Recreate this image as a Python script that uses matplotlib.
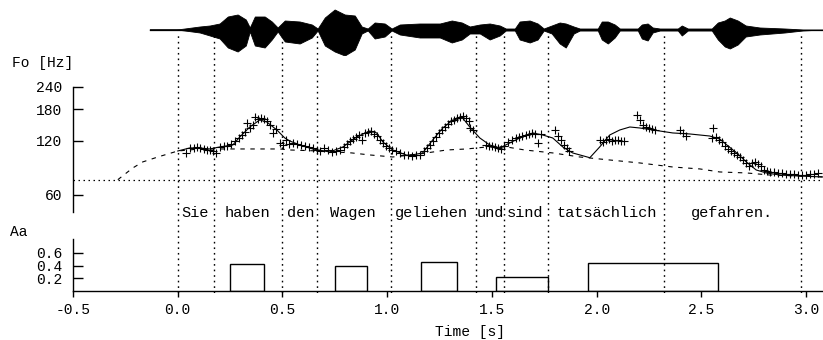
import matplotlib.pyplot as plt
import numpy as np
from matplotlib.ticker import NullLocator
from matplotlib.transforms import blended_transform_factory

plt.rcParams["font.family"] = ["Liberation Mono", "DejaVu Sans"]

W, H = 823, 340
T_MIN, T_MAX = -0.5, 3.08

# speech waveform envelope (time in s, amplitude above / below the baseline, arbitrary units)
wave_t = [-0.134, -0.005, 0.033, 0.105, 0.153, 0.200, 0.239, 0.286, 0.325, 0.344,
          0.368, 0.415, 0.449, 0.477, 0.511, 0.582, 0.640, 0.668, 0.702, 0.749,
          0.797, 0.845, 0.878, 0.907, 0.940, 0.988, 1.021, 1.060, 1.155, 1.251,
          1.308, 1.356, 1.394, 1.442, 1.489, 1.537, 1.566, 1.609, 1.632, 1.680,
          1.718, 1.747, 1.785, 1.823, 1.852, 1.890, 1.919, 2.005, 2.024, 2.053,
          2.086, 2.110, 2.196, 2.215, 2.243, 2.267, 2.301, 2.387, 2.406, 2.435,
          2.549, 2.578, 2.611, 2.635, 2.673, 2.711, 2.778, 2.897, 2.983, 3.079]
wave_up = [0, 0, 1, 3, 4, 6, 13, 15, 10, 2,
           13, 13, 8, 2, 9, 8, 5, 1, 12, 20,
           15, 14, 3, 1, 7, 6, 1, 5, 6, 6,
           9, 7, 3, 5, 6, 4, 1, 1, 8, 9,
           6, 1, 4, 7, 6, 3, 1, 1, 8, 8,
           5, 1, 1, 5, 6, 2, 1, 1, 4, 1,
           1, 7, 9, 12, 9, 4, 2, 1, 0, 0]
wave_dn = [0, 0, 1, 3, 6, 9, 18, 22, 16, 2,
           16, 18, 10, 2, 12, 14, 8, 1, 16, 22,
           26, 20, 4, 1, 9, 7, 1, 5, 8, 8,
           13, 10, 4, 4, 10, 6, 1, 1, 10, 13,
           10, 1, 4, 14, 18, 4, 1, 1, 10, 14,
           8, 1, 1, 9, 11, 3, 1, 1, 6, 1,
           1, 10, 17, 19, 15, 7, 5, 3, 1, 0]

# measured F0 (+ marks)
f0_t = ([0.038, 0.057, 0.076, 0.091, 0.105, 0.124, 0.138, 0.153, 0.167, 0.181,
         0.200, 0.220, 0.234, 0.253, 0.272, 0.291, 0.305, 0.320, 0.329, 0.344,
         0.358, 0.368, 0.382, 0.396, 0.410, 0.425, 0.439, 0.453, 0.468, 0.487,
         0.501, 0.515, 0.530]
        + [0.549, 0.568, 0.587, 0.606, 0.625, 0.644, 0.663, 0.678, 0.697, 0.716,
           0.735, 0.754, 0.773, 0.792, 0.807, 0.821, 0.835, 0.850, 0.864, 0.878,
           0.893, 0.907, 0.921, 0.935, 0.950, 0.964, 0.978, 0.993, 1.007, 1.021]
        + [1.040, 1.060, 1.079, 1.098, 1.117, 1.136, 1.155, 1.174, 1.189, 1.203,
           1.217, 1.232, 1.246, 1.260, 1.274, 1.289, 1.303, 1.317, 1.332, 1.346,
           1.360, 1.375, 1.389, 1.394, 1.408]
        + [1.470, 1.484, 1.499, 1.513, 1.527, 1.542, 1.556, 1.575, 1.594, 1.613,
           1.628, 1.642, 1.661, 1.675, 1.690, 1.704, 1.718, 1.733]
        + [1.799, 1.814, 1.828, 1.842, 1.857, 1.866]
        + [2.014, 2.029, 2.043, 2.057, 2.072, 2.086, 2.100, 2.115, 2.129]
        + [2.191, 2.205, 2.220, 2.234, 2.248, 2.262, 2.277]
        + [2.396, 2.411, 2.425, 2.549, 2.554, 2.568, 2.582, 2.597, 2.611, 2.625,
           2.640, 2.654, 2.668, 2.683, 2.697, 2.711, 2.726, 2.740, 2.754, 2.768,
           2.783, 2.797, 2.811, 2.826, 2.845, 2.864, 2.883, 2.902, 2.921, 2.940,
           2.959, 2.978, 2.998, 3.017, 3.036, 3.055])
f0_hz = ([102.9, 109.7, 109.7, 111.1, 109.7, 108.3, 106.9, 106.9, 105.5, 102.9,
          111.1, 112.6, 112.6, 115.5, 120.0, 124.7, 129.6, 134.7, 151.2, 141.8,
          147.4, 163.3, 159.2, 161.2, 159.2, 155.1, 147.4, 133.0, 140.0, 117.0,
          114.0, 121.6, 115.5]
         + [117.0, 115.5, 114.0, 112.6, 111.1, 109.7, 106.9, 105.5, 109.7, 106.9,
            104.2, 105.5, 106.9, 111.1, 115.5, 120.0, 123.1, 126.3, 129.6, 121.6,
            133.0, 134.7, 136.4, 131.3, 127.9, 121.6, 117.0, 112.6, 109.7, 106.9]
         + [105.5, 102.9, 100.3, 100.3, 98.9, 100.3, 100.3, 105.5, 109.7, 114.0,
            120.0, 126.3, 133.0, 138.2, 143.6, 149.3, 155.1, 157.1, 161.2, 163.3,
            165.4, 161.2, 155.1, 141.8, 138.2]
         + [114.0, 112.6, 112.6, 111.1, 109.7, 108.3, 112.6, 118.5, 121.6, 124.7,
            126.3, 127.9, 129.6, 131.3, 133.0, 131.3, 117.0, 131.3]
         + [138.2, 127.9, 121.6, 114.0, 109.7, 105.5]
         + [121.6, 118.5, 121.6, 123.1, 120.0, 121.6, 121.6, 120.0, 120.0]
         + [167.6, 157.1, 147.4, 143.6, 141.8, 140.0, 138.2]
         + [138.2, 133.0, 127.9, 124.7, 141.8, 126.3, 121.6, 118.5, 112.6, 108.3,
            105.5, 102.9, 100.3, 97.7, 94.0, 90.5, 87.1, 90.5, 91.7, 89.3,
            87.1, 82.7, 81.6, 80.6, 80.6, 79.6, 79.6, 78.5, 78.5, 78.5,
            77.5, 77.5, 77.5, 78.5, 78.5, 79.6])

# model F0 contour (solid)
model_t = [0.000, 0.057, 0.105, 0.153, 0.200, 0.263, 0.296, 0.344, 0.391, 0.425,
           0.473, 0.511, 0.535, 0.582, 0.644, 0.726, 0.788, 0.854, 0.916, 0.950,
           0.979, 1.026, 1.093, 1.122, 1.169, 1.217, 1.265, 1.313, 1.360, 1.394,
           1.442, 1.489, 1.537, 1.585, 1.632, 1.695, 1.742, 1.790, 1.838, 1.885,
           1.967, 2.014, 2.062, 2.110, 2.158, 2.205, 2.301, 2.363, 2.444, 2.539,
           2.587, 2.621, 2.668, 2.714, 2.761, 2.809, 2.874, 2.969, 3.079]
model_hz = [105.5, 109.7, 109.7, 108.3, 111.1, 114.0, 126.3, 143.6, 157.1, 153.2,
            138.2, 124.7, 120.0, 114.0, 108.3, 104.2, 111.1, 126.3, 136.4, 133.0,
            118.5, 106.9, 100.0, 100.5, 102.9, 121.6, 141.8, 157.1, 161.2, 143.6,
            124.7, 114.0, 109.7, 117.0, 124.7, 133.0, 129.6, 124.7, 111.1, 102.9,
            96.8, 111.1, 129.6, 138.2, 143.6, 141.8, 136.4, 133.0, 131.3, 127.9,
            123.1, 114.0, 102.9, 91.7, 82.7, 79.6, 77.5, 76.5, 75.6]

# phrase component (dashed)
phrase_t = [-0.286, -0.215, -0.167, -0.095, 0.000, 0.105, 0.296, 0.487, 0.535, 0.678,
            0.831, 0.916, 1.026, 1.155, 1.284, 1.379, 1.475, 1.570, 1.656, 1.790,
            1.919, 2.062, 2.205, 2.363, 2.492, 2.587, 2.714, 2.826, 2.969, 3.079]
phrase_hz = [73.0, 84.8, 91.7, 97.7, 105.5, 108.3, 108.3, 108.3, 106.9, 105.5,
             102.9, 100.3, 97.7, 101.6, 106.9, 108.3, 111.1, 111.1, 106.9, 102.9,
             97.7, 94.0, 90.5, 85.9, 83.8, 80.6, 79.6, 77.5, 76.5, 75.6]
FB = 73.0

# accent commands
acc_on = [0.248, 0.750, 1.160, 1.518, 1.957]
acc_off = [0.410, 0.902, 1.332, 1.766, 2.578]
acc_amp = [0.43, 0.39, 0.455, 0.22, 0.445]

# word boundaries and words
bounds = [0.0, 0.172, 0.496, 0.663, 1.017, 1.422, 1.556, 1.766, 2.320, 2.974]
words = ["Sie", "haben", "den", "Wagen", "geliehen", "und", "sind", "tatsächlich", "gefahren."]
word_t = [0.019, 0.224, 0.520, 0.726, 1.036, 1.427, 1.570, 1.809, 2.449]

f0_ticks = [60, 120, 180, 240]
aa_ticks = [0.2, 0.4, 0.6]
time_ticks = [-0.5, 0.0, 0.5, 1.0, 1.5, 2.0, 2.5, 3.0]


def px_axes(fig, x0, y0, x1, y1):
    return fig.add_axes([x0 / W, 1 - y1 / H, (x1 - x0) / W, (y1 - y0) / H])


fig = plt.figure(figsize=(W / 100, H / 100), dpi=100)
FS = 10.5
DOT = (0, (1.2, 2.8))

# waveform
ax_w = px_axes(fig, 73, 4, 823, 55)
ax_w.fill_between(wave_t, wave_up, -np.array(wave_dn), color="k", lw=0.6)
ax_w.plot(wave_t, np.zeros(len(wave_t)), color="k", lw=0.9)
ax_w.set_xlim(T_MIN, T_MAX)
ax_w.set_ylim(-25.5, 25.5)
ax_w.set_axis_off()

# F0 panel
ax_f = px_axes(fig, 73, 87, 823, 212)
ax_f.set_yscale("log")
ax_f.set_xlim(T_MIN, T_MAX)
ax_f.set_ylim(48.2, 240)
ax_f.axhline(FB, color="k", lw=0.9, ls=DOT)
ax_f.plot(phrase_t, phrase_hz, color="k", lw=0.8, ls=(0, (4, 5)))
ax_f.plot(model_t, model_hz, color="k", lw=0.8)
ax_f.plot(f0_t, f0_hz, "+", color="k", ms=6, mew=0.8)
ax_f.set_yticks(f0_ticks, labels=[str(v) for v in f0_ticks])
ax_f.yaxis.set_minor_locator(NullLocator())
ax_f.set_xticks([])
for s in ("top", "right", "bottom"):
    ax_f.spines[s].set_visible(False)
ax_f.spines["left"].set_linewidth(1.0)
ax_f.tick_params(axis="y", direction="in", length=7, width=1.0, pad=8, labelsize=FS)
ax_f.patch.set_alpha(0)

# accent command panel
ax_a = px_axes(fig, 73, 239, 823, 290.5)
ax_a.bar(acc_on, acc_amp, width=np.array(acc_off) - np.array(acc_on), align="edge",
         fill=False, edgecolor="k", lw=1.0)
ax_a.set_xlim(T_MIN, T_MAX)
ax_a.set_ylim(0, 0.824)
ax_a.set_yticks(aa_ticks, labels=[f"{v:.1f}" for v in aa_ticks])
ax_a.set_xticks(time_ticks, labels=[f"{v:.1f}" for v in time_ticks])
for s in ("top", "right"):
    ax_a.spines[s].set_visible(False)
for s in ("left", "bottom"):
    ax_a.spines[s].set_linewidth(1.0)
ax_a.tick_params(axis="y", direction="in", length=7, width=1.0, pad=8, labelsize=FS)
ax_a.tick_params(axis="x", direction="out", length=4, width=1.0, pad=5, labelsize=FS)
ax_a.patch.set_alpha(0)

# word boundaries and words
ax_o = px_axes(fig, 73, 32, 823, 293)
ax_o.set_xlim(T_MIN, T_MAX)
ax_o.set_ylim(0, 1)
ax_o.set_axis_off()
ax_o.vlines(bounds, 0, 1, colors="k", lw=1.0, linestyles=[DOT])
tr = blended_transform_factory(ax_o.transData, ax_o.transAxes)
for w, t in zip(words, word_t):
    ax_o.text(t, 0.306, w, transform=tr, ha="left", va="center", fontsize=11)

fig.text(12 / W, 1 - 63 / H, "Fo [Hz]", ha="left", va="center", fontsize=FS)
fig.text(10 / W, 1 - 232 / H, "Aa", ha="left", va="center", fontsize=FS)
fig.text(470 / W, 1 - 332 / H, "Time [s]", ha="center", va="center", fontsize=FS)

fig.savefig("out.png", dpi=100)
